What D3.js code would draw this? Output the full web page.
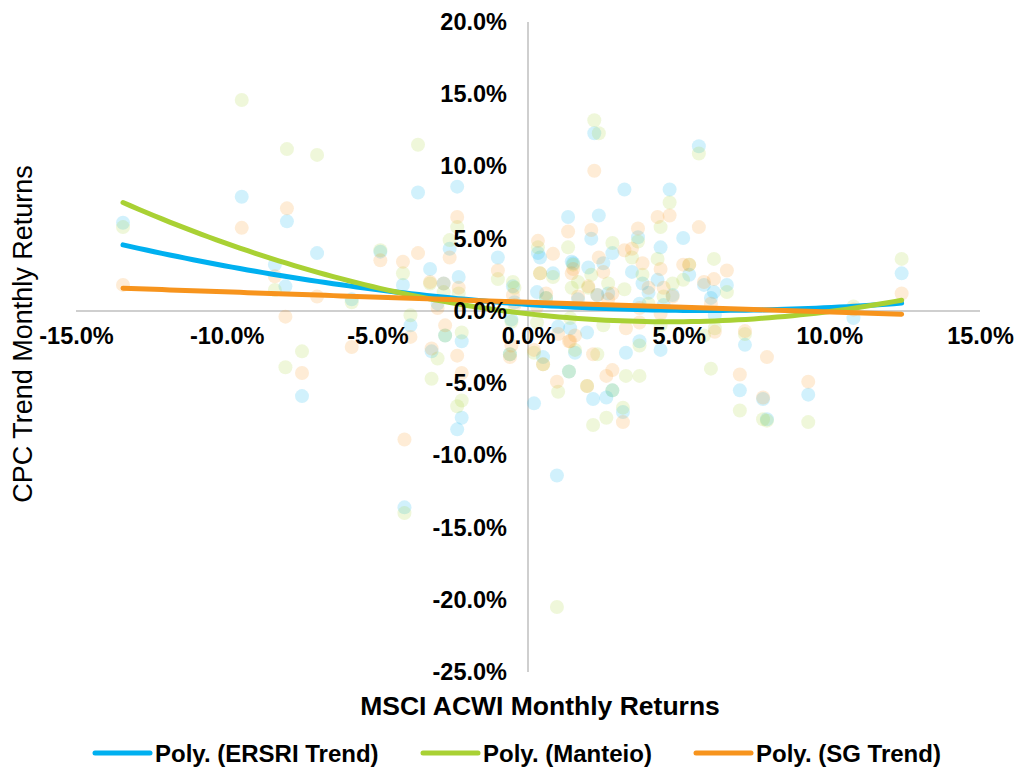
<!DOCTYPE html>
<html>
<head>
<meta charset="utf-8">
<script src="https://cdn.jsdelivr.net/npm/d3@7"></script>
<style>
  body { margin: 0; background: #fff; }
  svg { font-family: "Liberation Sans", Arial, sans-serif; }
</style>
</head>
<body>
<svg width="1018" height="770"></svg>
<script>
// MSCI ACWI monthly return (%) - shared x for every fund
const msci = [-13.44, -9.5, -8.4, -8.0, -8.05, -7.5, -7.0, -5.85, -4.9, -4.15, -4.1, -3.9, -3.65, -3.25, -3.2,
  -3.0, -2.8, -2.75, -2.6, -2.35, -2.3, -2.2, -2.35, -2.2, -1.0, -0.5, -0.45, -0.55, -0.6, 0.2,
  0.3, 0.33, 0.4, 0.5, 0.6, 0.83, 0.96, 1.0, 1.33, 1.36, 1.5, 1.45, 1.56, 1.66, 1.4,
  1.96, 2.0, 2.1, 2.16, 2.2, 2.35, 2.3, 2.5, 2.66, 2.8, 2.8, 2.6, 3.15, 3.2, 3.25,
  3.45, 3.65, 3.7, 3.7, 3.8, 4.0, 4.3, 4.4, 4.4, 4.5, 4.7, 4.8, 5.15, 5.35, 5.67,
  5.84, 6.07, 6.17, 6.2, 6.6, 7.03, 7.2, 7.8, 7.93, 9.3, 10.8, 12.4];

const ersri = [6.1, 7.9, 3.2, 6.2, 1.7, -5.9, 4.0, 0.8, 4.1, 1.8, -13.6, -1.0, 8.2, 2.9, -2.8,
  0.5, 1.9, -1.7, 4.3, 8.6, 2.35, -2.1, -8.2, -7.4, 3.7, 1.7, 0.6, -0.6, -3.0, -6.4,
  1.3, 4.0, 3.7, -3.2, 0.9, 2.6, -11.4, -1.1, 6.5, -4.2, 3.3, 3.4, -2.9, 0.8, -1.2,
  -1.5, 3.0, 5.0, -6.1, 12.3, 6.6, 1.1, 3.3, 1.2, 4.0, -5.5, -6.0, -7.0, 8.4, -2.9,
  2.7, 5.1, -2.1, 0.5, 1.9, 1.25, 2.15, 4.4, -2.7, 0.4, 8.4, 1.1, 5.05, 2.5, 11.4,
  1.8, 0.9, 1.3, -0.3, 1.8, -5.5, -2.35, -6.1, -7.5, -5.8, -0.5, 2.6];

const manteio = [5.8, 14.6, 1.45, 11.2, -3.9, -2.8, 10.8, 0.6, 4.2, 2.6, -14.0, -0.3, 11.5, 1.9, -4.7,
  -3.3, 1.3, -1.7, 4.9, 5.8, 1.2, -6.2, -6.6, -1.5, 2.2, 2.0, 1.6, -0.75, -3.0, -2.9,
  -0.8, 4.4, 2.6, -3.7, 0.9, 2.35, -20.5, -5.6, 4.4, -4.2, 3.2, 1.6, -2.7, 2.0, -0.5,
  -5.2, 1.6, 2.5, -7.9, 13.2, 12.3, -3.0, -1.0, 1.9, 4.7, -5.5, -7.4, -6.7, 1.5, -4.5,
  3.7, 4.8, -2.4, -4.5, 2.5, 0.5, 3.6, 5.8, -1.0, 1.0, 7.5, 1.9, 2.15, 3.2, 10.9,
  -1.7, -4.0, 3.6, -1.2, 1.3, -6.9, -1.6, -7.5, -7.6, -7.7, 0.3, 3.6];

const sgTrend = [1.8, 5.75, 2.4, 7.1, -0.4, -4.3, 1.0, -2.5, 3.5, 3.4, -8.9, -1.8, 4.0, 2.0, -2.6,
  0.2, 1.9, -1.0, 3.7, 6.5, 1.6, -4.3, -3.1, 0.5, 2.8, 1.1, 0.4, -2.4, -3.2, -2.7,
  0.3, 4.85, 2.6, -3.7, 1.2, 3.95, -4.9, -1.6, 5.5, -2.1, 2.9, 2.6, -1.7, 1.0, -2.1,
  -5.2, 1.7, 5.6, -3.0, 9.7, 3.7, 1.1, 2.7, 0.8, 1.2, -4.1, -4.5, -7.7, 4.2, -1.2,
  4.3, 5.7, -0.8, 0.2, 3.3, 1.6, 6.5, 2.9, -0.2, 1.6, 6.6, 1.0, 3.2, 3.2, 5.8,
  2.0, 0.5, 2.2, -1.45, 2.8, -4.4, -1.4, -6.0, -3.2, -4.9, 0.1, 1.2];

// order-2 polynomial trendlines: [a, b, c] for a + b*x + c*x^2
const ersriPoly = [0.45, -0.1433, 0.01215];
const manteioPoly = [-0.2, -0.2355, 0.02511];
const sgPoly = [0.6, -0.0693, 0.000213];

const xTicks = [-15, -10, -5, 0, 5, 10, 15];
const yTicks = [20, 15, 10, 5, 0, -5, -10, -15, -20, -25];

const series = [
  { name: "ERSRI Trend", values: ersri, poly: ersriPoly, color: "#00B0F0" },
  { name: "Manteio", values: manteio, poly: manteioPoly, color: "#A9D134" },
  { name: "SG Trend", values: sgTrend, poly: sgPoly, color: "#F7941D" }
];

const svg = d3.select("svg");
const x = d3.scaleLinear().domain([-15, 15]).range([76, 980]);
const y = d3.scaleLinear().domain([-25, 20]).range([672, 22]);
const fmt = d => d.toFixed(1) + "%";  // plain hyphen minus like the original

// axis lines crossing at the origin
svg.append("line")
  .attr("x1", x(-15)).attr("x2", x(15))
  .attr("y1", y(0)).attr("y2", y(0))
  .attr("stroke", "#BFBFBF").attr("stroke-width", 1.5);
svg.append("line")
  .attr("x1", x(0)).attr("x2", x(0))
  .attr("y1", y(20)).attr("y2", y(-25))
  .attr("stroke", "#BFBFBF").attr("stroke-width", 1.5);

// points
series.forEach(s => {
  svg.append("g").selectAll("circle")
    .data(msci.map((m, i) => [m, s.values[i]]))
    .join("circle")
    .attr("cx", d => x(d[0]))
    .attr("cy", d => y(d[1]))
    .attr("r", 7)
    .attr("fill", s.color)
    .attr("fill-opacity", 0.18);
});

// trend lines
const xs = d3.range(0, 101).map(i => d3.min(msci) + (d3.max(msci) - d3.min(msci)) * i / 100);
const line = d3.line().x(d => x(d[0])).y(d => y(d[1]));
series.forEach(s => {
  const p = s.poly;
  svg.append("path")
    .attr("d", line(xs.map(v => [v, p[0] + p[1] * v + p[2] * v * v])))
    .attr("fill", "none")
    .attr("stroke", s.color)
    .attr("stroke-width", 5)
    .attr("stroke-linecap", "round");
});

// tick labels
const xAxis = d3.axisBottom(x).tickValues(xTicks).tickFormat(fmt).tickSize(0).tickPadding(16);
const gx = svg.append("g").attr("transform", `translate(0,${y(0)})`).call(xAxis);
const yAxis = d3.axisLeft(y).tickValues(yTicks).tickFormat(fmt).tickSize(0).tickPadding(21);
const gy = svg.append("g").attr("transform", `translate(${x(0)},0)`).call(yAxis);
[gx, gy].forEach(g => {
  g.select(".domain").remove();
  g.selectAll("text")
    .attr("fill", "#000")
    .style("font-family", "'Liberation Sans', Arial, sans-serif")
    .style("font-size", "23.5px")
    .style("font-weight", "bold");
});

// axis titles
svg.append("text")
  .attr("x", 540).attr("y", 715)
  .attr("text-anchor", "middle")
  .style("font-size", "26.5px").style("font-weight", "bold")
  .text("MSCI ACWI Monthly Returns");
svg.append("text")
  .attr("transform", "translate(32,334) rotate(-90)")
  .attr("text-anchor", "middle")
  .style("font-size", "27px")
  .text("CPC Trend Monthly Returns");

// legend
const legendX = [95, 423, 696];
series.forEach((s, i) => {
  const g = svg.append("g").attr("transform", `translate(${legendX[i]},753)`);
  g.append("line").attr("x1", 0).attr("x2", 55)
    .attr("stroke", s.color).attr("stroke-width", 5).attr("stroke-linecap", "round");
  g.append("text").attr("x", 60).attr("y", 8.5)
    .style("font-size", "24px").style("font-weight", "bold")
    .text("Poly. (" + s.name + ")");
});
</script>
</body>
</html>
